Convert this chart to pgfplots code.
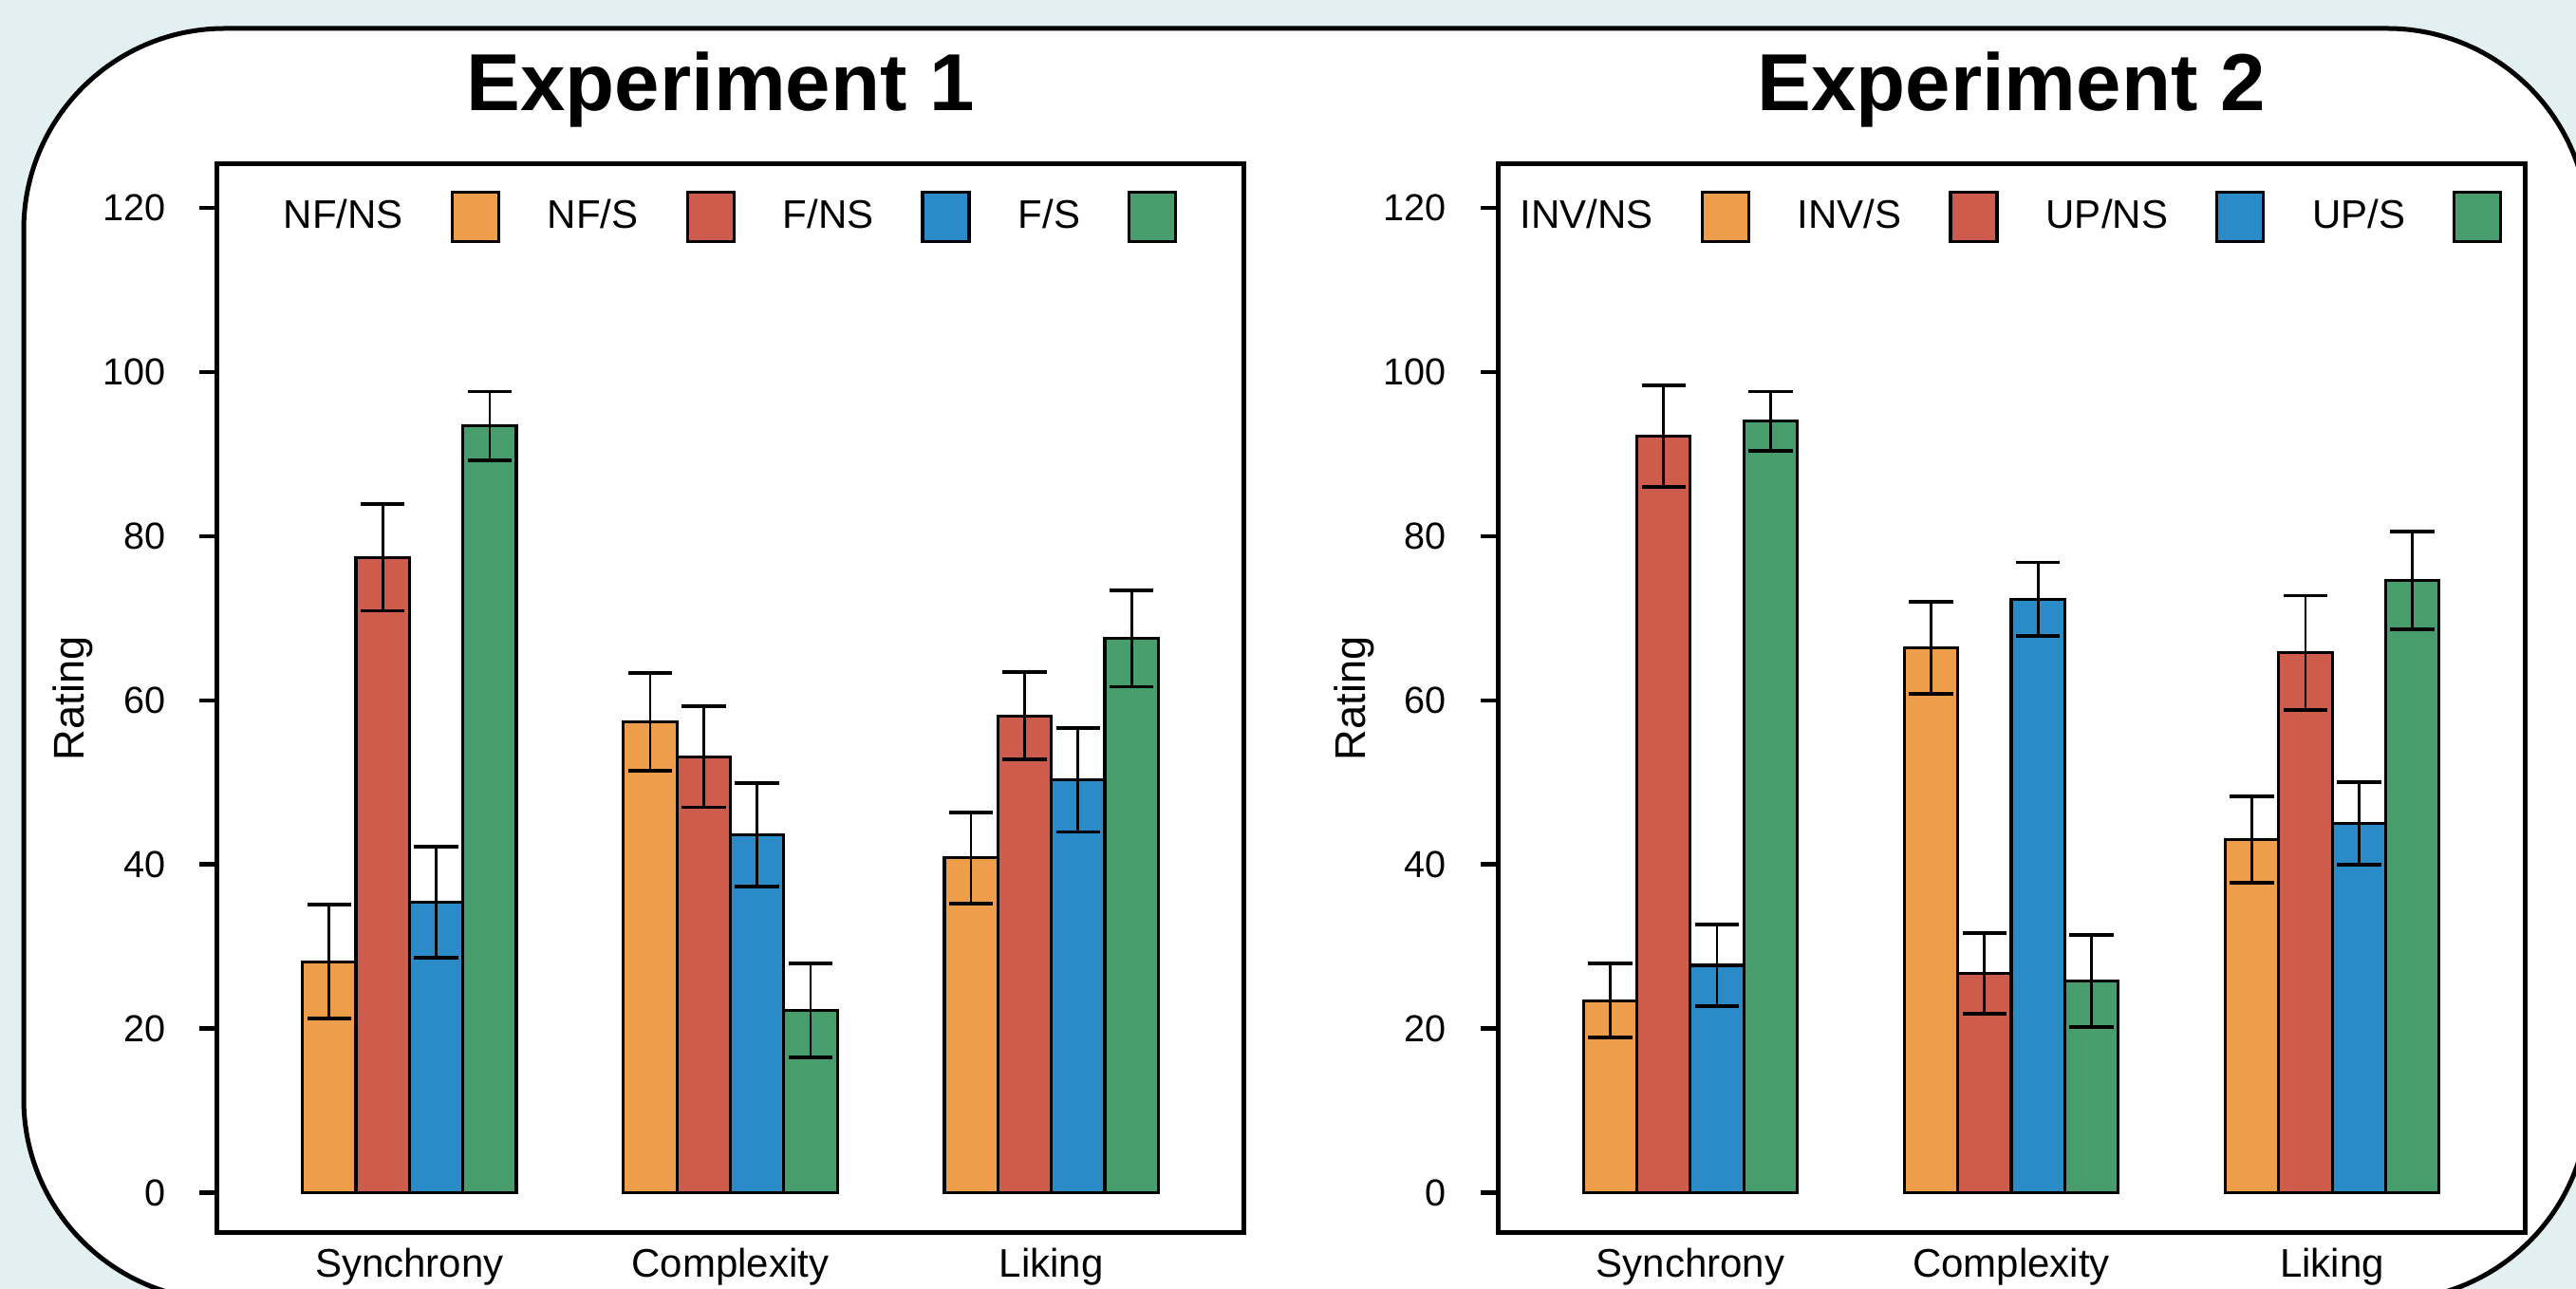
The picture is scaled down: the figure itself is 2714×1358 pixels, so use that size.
\documentclass[border=0pt]{standalone}
\usepackage{fontspec}
\setmainfont{Liberation Sans}
\usepackage{pgfplots}
\pgfplotsset{compat=1.18}
\definecolor{bgc}{RGB}{226,240,241}
\definecolor{cor}{RGB}{238,158,74}
\definecolor{cre}{RGB}{205,92,77}
\definecolor{cbl}{RGB}{42,139,200}
\definecolor{cgr}{RGB}{71,157,107}

\pgfplotsset{
  panel/.style={
    anchor=south west, scale only axis,
    width=270.5pt, height=281.5pt,
    xmin=0.4, xmax=3.6, ymin=-4.9, ymax=125.3,
    xtick={1,2,3}, xticklabels={Synchrony,Complexity,Liking},
    ytick={0,20,...,120},
    /pgf/number format/assume math mode=true,
    axis line style={line width=1.25pt},
    tick align=outside, ytick pos=left,
    major tick length=4.5pt,
    x tick style={draw=none},
    y tick style={line width=1.1pt, black},
    yticklabel style={font=\fontsize{9.9}{11}\selectfont, inner sep=0pt, anchor=east, xshift=-8.9pt},
    xticklabel style={font=\fontsize{10.5}{12}\selectfont, anchor=base, yshift=-7.25pt},
    ylabel={Rating},
    every axis y label/.style={at={(axis description cs:-0.14,0.5)}, rotate=90, anchor=center, font=\fontsize{11.3}{13}\selectfont},
    title style={at={(axis description cs:0.5,1)}, anchor=base, yshift=8pt, font=\bfseries\fontsize{21.3}{25}\selectfont},
    ybar, bar width=0.16667,
    legend plot pos=right,
    legend columns=4,
    legend style={draw=none, fill=none, at={(0.5,0.951)}, anchor=center,
      column sep=12.5pt, nodes={inner sep=0pt}, font=\fontsize{10.5}{12}\selectfont},
    legend image code/.code={\draw[##1, line width=0.8pt] (0pt,-6.5pt) rectangle (12.25pt,6.5pt);},
    error bars/y dir=both, error bars/y explicit,
    error bars/error bar style={line width=0.7pt, black},
    error bars/error mark options={rotate=90, black, mark size=5.8pt, line width=0.95pt},
  },
  barstyle/.style={draw=black, line width=0.8pt, fill=#1},
}

\begin{document}
\begin{tikzpicture}[x=0.25pt,y=0.25pt]
\useasboundingbox (0,0) rectangle (2714,1358);
\clip (0,0) rectangle (2714,1358);
\fill[bgc] (0,0) rectangle (2714,1358);
\draw[line width=1.25pt, fill=white, rounded corners=53pt] (25,-12) rectangle (2727,1328);

\begin{axis}[panel, at={(57.125pt,14.75pt)}, title={Experiment 1}, title style={xshift=-2.6pt}]
\addplot[barstyle=cor, bar shift=-0.25] coordinates {(1,28.15) +- (0,6.95) (2,57.4) +- (0,5.95) (3,40.8) +- (0,5.55)};
\addplot[barstyle=cre, bar shift=-0.08333] coordinates {(1,77.4) +- (0,6.5) (2,53.1) +- (0,6.15) (3,58.1) +- (0,5.3)};
\addplot[barstyle=cbl, bar shift=0.08333] coordinates {(1,35.4) +- (0,6.8) (2,43.6) +- (0,6.3) (3,50.3) +- (0,6.35)};
\addplot[barstyle=cgr, bar shift=0.25] coordinates {(1,93.4) +- (0,4.2) (2,22.2) +- (0,5.75) (3,67.5) +- (0,5.85)};
\legend{NF/NS,NF/S,F/NS,F/S}
\end{axis}

\begin{axis}[panel, at={(394.5pt,14.75pt)}, title={Experiment 2}]
\addplot[barstyle=cor, bar shift=-0.25] coordinates {(1,23.4) +- (0,4.5) (2,66.4) +- (0,5.6) (3,43.0) +- (0,5.25)};
\addplot[barstyle=cre, bar shift=-0.08333] coordinates {(1,92.2) +- (0,6.2) (2,26.7) +- (0,4.9) (3,65.8) +- (0,6.95)};
\addplot[barstyle=cbl, bar shift=0.08333] coordinates {(1,27.7) +- (0,5.0) (2,72.3) +- (0,4.5) (3,45.0) +- (0,5.05)};
\addplot[barstyle=cgr, bar shift=0.25] coordinates {(1,94.0) +- (0,3.6) (2,25.8) +- (0,5.6) (3,74.6) +- (0,5.95)};
\legend{INV/NS,INV/S,UP/NS,UP/S}
\end{axis}
\end{tikzpicture}
\end{document}
